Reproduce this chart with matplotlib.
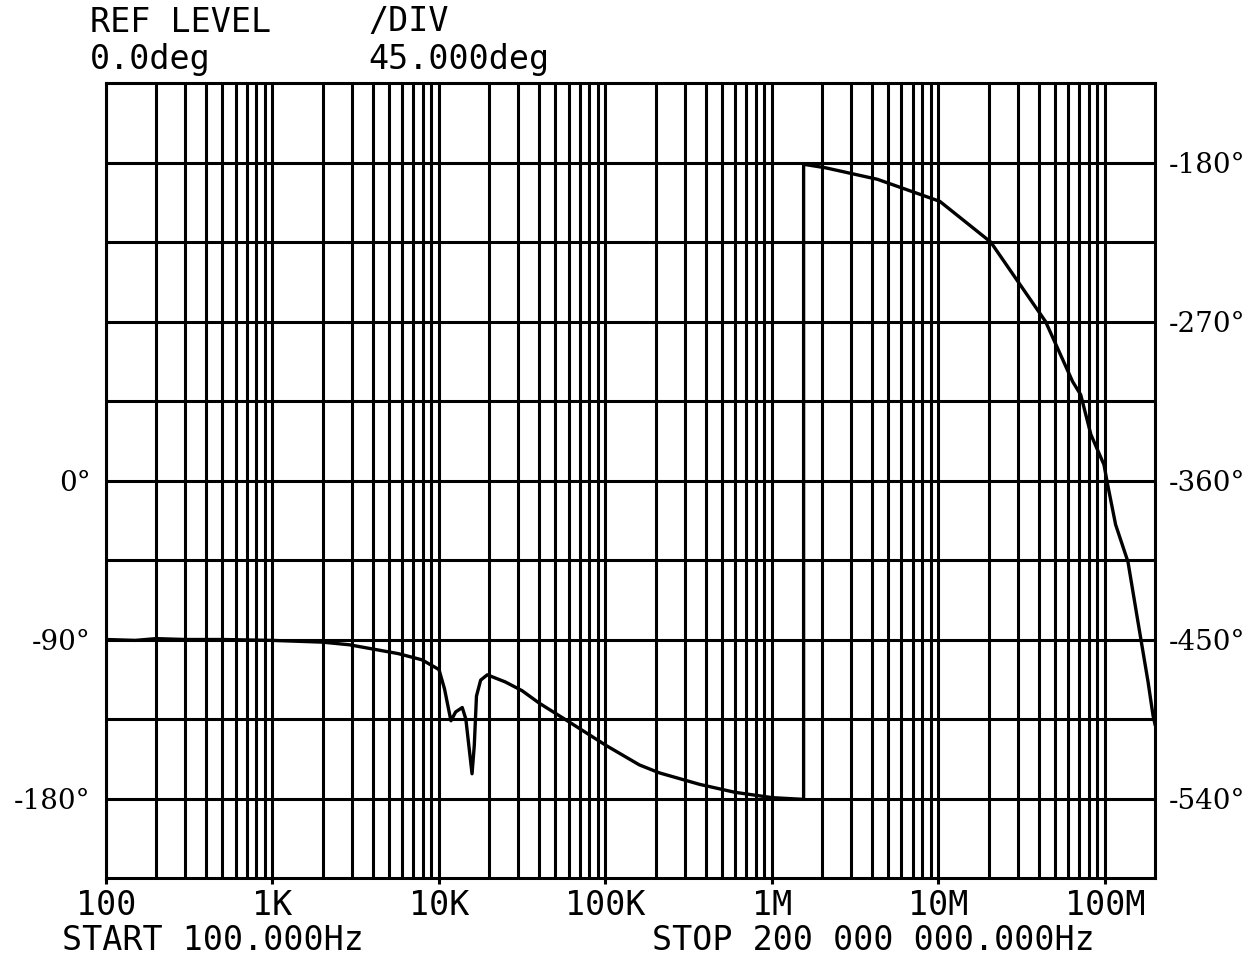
import numpy as np
import matplotlib
matplotlib.use("Agg")
import matplotlib.pyplot as plt
from matplotlib.ticker import FixedLocator, NullFormatter

# phase trace (Hz, degrees on the left scale)
freq_hz = [100, 150, 200, 300, 500, 1000, 2000, 2900, 4350, 5700, 7900,
           10000, 10800, 11800, 12600, 13800, 14500, 15200, 15800, 16300,
           16800, 17800, 19500, 25000, 31600, 40000, 59000, 101000, 160000,
           211000, 368000, 600000, 1000000, 1550000,
           1550000, 2100000, 4300000, 10200000, 20600000, 44000000,
           64000000, 71600000, 82400000, 98700000, 104000000, 116000000,
           137600000, 158000000, 181700000, 194600000, 200000000]
phase_deg = [-90, -90.5, -89.5, -90, -90, -90.5, -91.5, -93, -96, -98, -101.5,
             -107, -118, -136, -131, -128.5, -135, -152, -166, -150,
             -122, -113, -110, -114, -119, -126, -136, -150, -161,
             -165.5, -172, -176.5, -179.5, -180.5,
             179, 177, 170.5, 158, 135, 90,
             56, 48.5, 26, 9, -2.5, -25,
             -46, -80, -114, -133, -138]

decades = [1e2, 1e3, 1e4, 1e5, 1e6, 1e7, 1e8]
decade_labels = ["100", "1K", "10K", "100K", "1M", "10M", "100M"]
grid_deg = [-180, -135, -90, -45, 0, 45, 90, 135, 180]
left_labels = {0: "0°", -90: "-90°", -180: "-180°"}
right_labels = {180: "-180°", 90: "-270°", 0: "-360°", -90: "-450°", -180: "-540°"}

W, H = 1257, 964
fig = plt.figure(figsize=(W / 100, H / 100), dpi=100)
fig.patch.set_facecolor("white")

x0, x1, y0, y1 = 106, 1155, 83, 878
ax = fig.add_axes([x0 / W, 1 - y1 / H, (x1 - x0) / W, (y1 - y0) / H])
ax.set_xscale("log")
ax.set_xlim(100, 2e8)
ax.set_ylim(-225, 225)

lw_grid = 2.2
minors = [m * d for d in decades for m in range(2, 10) if m * d < 2e8]
ax.xaxis.set_major_locator(FixedLocator(decades))
ax.xaxis.set_minor_locator(FixedLocator(minors))
ax.xaxis.set_minor_formatter(NullFormatter())
ax.set_xticklabels(decade_labels)
ax.set_yticks(grid_deg)
ax.set_yticklabels([left_labels.get(v, "") for v in grid_deg])

ax.grid(True, which="both", axis="x", color="black", lw=lw_grid)
ax.grid(True, which="major", axis="y", color="black", lw=lw_grid)
ax.set_axisbelow(True)
for sp in ax.spines.values():
    sp.set_linewidth(lw_grid)

mono = "DejaVu Sans Mono"
ax.tick_params(axis="x", which="major", direction="out", length=4, width=lw_grid,
               pad=4, labelsize=24)
ax.tick_params(axis="x", which="minor", length=0)
for lab in ax.get_xticklabels():
    lab.set_family(mono)
ax.tick_params(axis="y", length=0, pad=11, labelsize=20)
for lab in ax.get_yticklabels():
    lab.set_family("DejaVu Serif")

ax2 = ax.twinx()
ax2.set_ylim(-225, 225)
ax2.set_yticks(list(right_labels.keys()))
ax2.set_yticklabels(list(right_labels.values()), family="DejaVu Serif")
ax2.tick_params(axis="y", length=0, pad=10, labelsize=20)
for sp in ax2.spines.values():
    sp.set_visible(False)

ax.plot(freq_hz, phase_deg, color="black", lw=2.4, solid_joinstyle="round")

def ftext(x, y, s):
    fig.text(x / W, 1 - y / H, s, family=mono, fontsize=24, ha="left", va="center")

ftext(90, 22, "REF LEVEL")
ftext(368, 22, "/DIV")
ftext(90, 59, "0.0deg")
ftext(368, 59, "45.000deg")
ftext(62, 941, "START 100.000Hz")
ftext(652, 941, "STOP 200 000 000.000Hz")

fig.savefig("out.png", dpi=100, facecolor="white")
